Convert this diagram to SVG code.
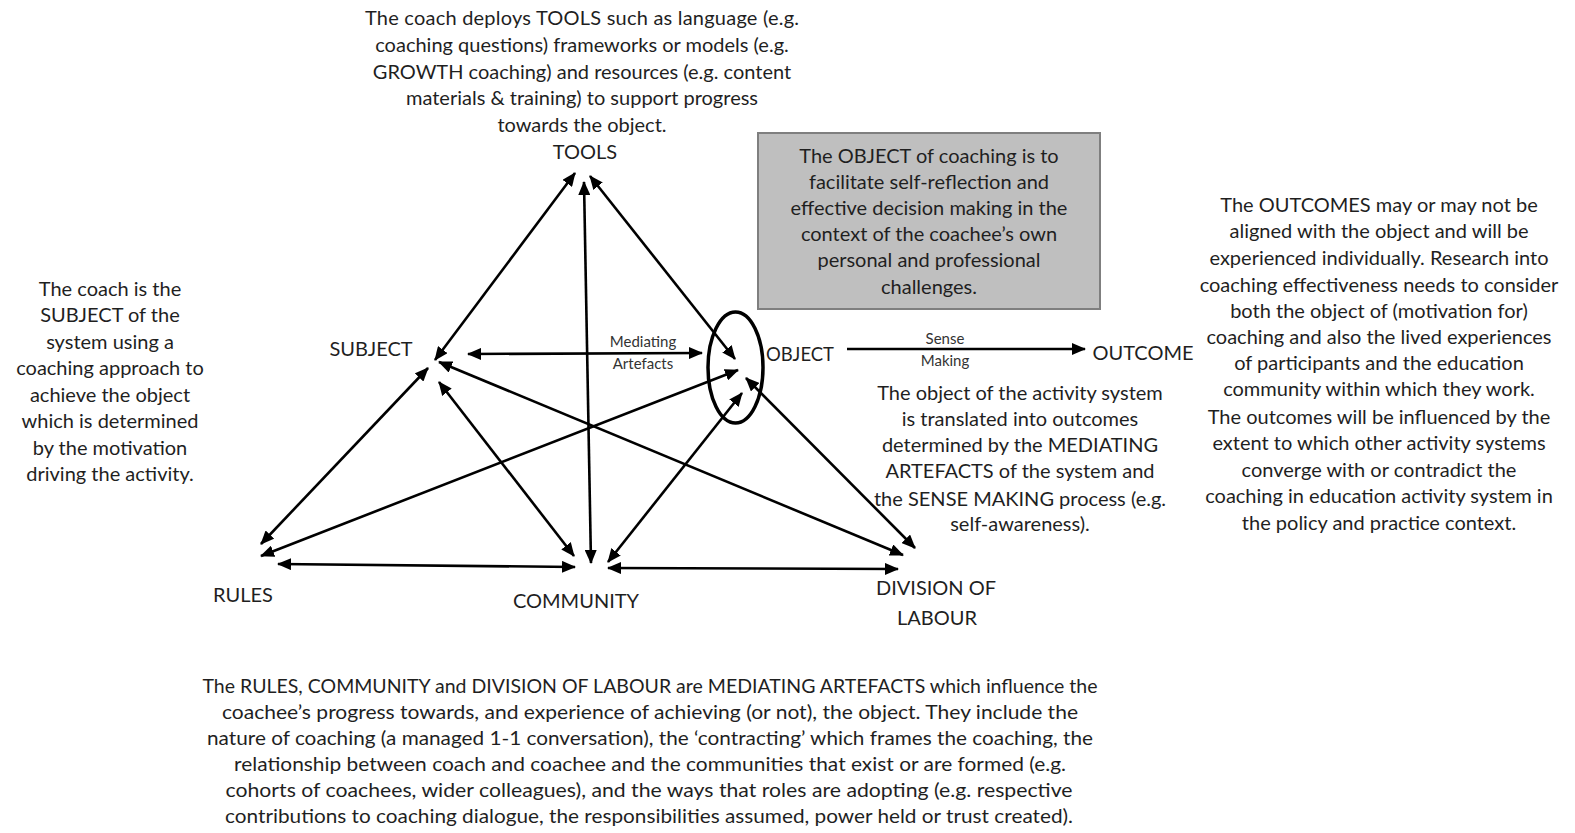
<svg xmlns="http://www.w3.org/2000/svg" width="1575" height="833" viewBox="0 0 1575 833">
<style>
  .t { font-family: Lato, "Open Sans", "Liberation Sans", sans-serif; font-size: 20px; fill: #1f1f1f; text-anchor: middle; }
  .lbl { font-family: Lato, "Open Sans", "Liberation Sans", sans-serif; font-size: 20px; fill: #1f1f1f; text-anchor: middle; }
  .sm { font-family: Lato, "Open Sans", "Liberation Sans", sans-serif; font-size: 15px; fill: #333; text-anchor: middle; }
  .bt { font-family: Lato, "Open Sans", "Liberation Sans", sans-serif; font-size: 20px; fill: #1f1f1f; text-anchor: middle; }
  .c { stroke: #000; stroke-width: 2.6; fill: none; marker-end: url(#ah); marker-start: url(#ah); }
  .c1 { stroke: #000; stroke-width: 2.6; fill: none; marker-end: url(#ah); }
</style>
<defs>
  <marker id="ah" markerUnits="userSpaceOnUse" markerWidth="14" markerHeight="12" viewBox="0 0 14 12" refX="13" refY="6" orient="auto-start-reverse">
    <path d="M0,0 L14,6 L0,12 z" fill="#000"/>
  </marker>
</defs>
<rect width="1575" height="833" fill="#fff"/>

<g id="tools-desc">
  <text class="t" x="582" y="25" textLength="434">The coach deploys TOOLS such as language (e.g.</text>
  <text class="t" x="582" y="52">coaching questions) frameworks or models (e.g.</text>
  <text class="t" x="582" y="79">GROWTH  coaching) and resources (e.g. content</text>
  <text class="t" x="582" y="105">materials &amp; training) to support progress</text>
  <text class="t" x="582" y="132">towards the object.</text>
</g>

<g id="object-box">
  <rect x="758" y="133" width="342" height="176" fill="#bfbfbf" stroke="#7f7f7f" stroke-width="2"/>
  <text class="t" x="929" y="163">The OBJECT of coaching is to</text>
  <text class="t" x="929" y="189">facilitate self-reflection and</text>
  <text class="t" x="929" y="215">effective decision making in the</text>
  <text class="t" x="929" y="241">context of the coachee’s own</text>
  <text class="t" x="929" y="267">personal and professional</text>
  <text class="t" x="929" y="294">challenges.</text>
</g>

<g id="subject-desc">
  <text class="t" x="110" y="296">The coach is the</text>
  <text class="t" x="110" y="322">SUBJECT of the</text>
  <text class="t" x="110" y="349">system using a</text>
  <text class="t" x="110" y="375">coaching approach to</text>
  <text class="t" x="110" y="402">achieve the object</text>
  <text class="t" x="110" y="428">which is determined</text>
  <text class="t" x="110" y="455">by the motivation</text>
  <text class="t" x="110" y="481">driving the activity.</text>
</g>

<g id="outcome-desc">
  <text class="t" x="1379" y="212">The OUTCOMES  may or may not be</text>
  <text class="t" x="1379" y="238">aligned with the object and will be</text>
  <text class="t" x="1379" y="265">experienced individually. Research into</text>
  <text class="t" x="1379" y="292">coaching effectiveness needs to consider</text>
  <text class="t" x="1379" y="318">both the object of (motivation for)</text>
  <text class="t" x="1379" y="344">coaching and also the  lived experiences</text>
  <text class="t" x="1379" y="370">of participants and the education</text>
  <text class="t" x="1379" y="396">community within which they work.</text>
  <text class="t" x="1379" y="424">The outcomes will be influenced by the</text>
  <text class="t" x="1379" y="450">extent to which other activity systems</text>
  <text class="t" x="1379" y="477">converge with or contradict the</text>
  <text class="t" x="1379" y="503">coaching in education activity system in</text>
  <text class="t" x="1379" y="530">the policy and practice context.</text>
</g>

<g id="sense-desc">
  <text class="t" x="1020" y="400">The object of the activity system</text>
  <text class="t" x="1020" y="426">is translated into outcomes</text>
  <text class="t" x="1020" y="452">determined by the MEDIATING</text>
  <text class="t" x="1020" y="478">ARTEFACTS of the system and</text>
  <text class="t" x="1020" y="506">the SENSE MAKING process (e.g.</text>
  <text class="t" x="1020" y="531">self-awareness).</text>
</g>

<g id="mediating-desc">
  <text class="bt" x="650" y="693" textLength="895" lengthAdjust="spacingAndGlyphs">The RULES,  COMMUNITY and DIVISION OF LABOUR are MEDIATING ARTEFACTS which influence the</text>
  <text class="bt" x="650" y="719" textLength="856" lengthAdjust="spacingAndGlyphs">coachee’s progress towards, and experience of achieving (or not), the object.  They include the</text>
  <text class="bt" x="650" y="745" textLength="886" lengthAdjust="spacingAndGlyphs">nature of coaching (a managed 1-1 conversation), the ‘contracting’ which frames the coaching, the</text>
  <text class="bt" x="650" y="771" textLength="832" lengthAdjust="spacingAndGlyphs">relationship between coach and coachee and the communities that exist or are formed (e.g.</text>
  <text class="bt" x="649" y="797" textLength="847" lengthAdjust="spacingAndGlyphs">cohorts of coachees, wider colleagues), and the ways that roles are adopting (e.g. respective</text>
  <text class="bt" x="649" y="823" textLength="848" lengthAdjust="spacingAndGlyphs">contributions to coaching dialogue, the responsibilities assumed, power held or trust created).</text>
</g>

<g id="connectors">
  <line class="c" x1="435" y1="360" x2="575" y2="173"/>
  <line class="c" x1="591" y1="563" x2="584" y2="182"/>
  <line class="c" x1="590" y1="176" x2="735" y2="359"/>
  <line class="c" x1="468" y1="354" x2="702" y2="353"/>
  <line class="c" x1="428" y1="368" x2="261" y2="544"/>
  <line class="c" x1="439" y1="382" x2="574" y2="556"/>
  <line class="c" x1="439" y1="362" x2="903" y2="555"/>
  <line class="c" x1="261" y1="556" x2="738" y2="370"/>
  <line class="c" x1="608" y1="562" x2="742" y2="393"/>
  <line class="c" x1="915" y1="548" x2="746" y2="378"/>
  <line class="c" x1="278" y1="564" x2="575" y2="567"/>
  <line class="c" x1="608" y1="568" x2="898" y2="569"/>
  <line class="c1" x1="847" y1="349" x2="1085" y2="349"/>
  <text class="sm" x="643" y="347">Mediating</text>
  <text class="sm" x="643" y="369">Artefacts</text>
  <text class="sm" x="945" y="344">Sense</text>
  <text class="sm" x="945" y="366">Making</text>
</g>

<g id="object">
  <ellipse cx="735.5" cy="367.5" rx="27.5" ry="55.5" fill="none" stroke="#000" stroke-width="3.5"/>
  <text class="lbl" x="766" y="361" style="text-anchor:start" textLength="68" lengthAdjust="spacingAndGlyphs">OBJECT</text>
</g>
<g id="tools"><text class="lbl" x="585" y="159">TOOLS</text></g>
<g id="subject"><text class="lbl" x="371" y="356">SUBJECT</text></g>
<g id="outcome"><text class="lbl" x="1143" y="360">OUTCOME</text></g>
<g id="rules"><text class="lbl" x="243" y="602">RULES</text></g>
<g id="community"><text class="lbl" x="576" y="608">COMMUNITY</text></g>
<g id="division">
  <text class="lbl" x="936" y="595">DIVISION OF</text>
  <text class="lbl" x="937" y="625">LABOUR</text>
</g>
</svg>
